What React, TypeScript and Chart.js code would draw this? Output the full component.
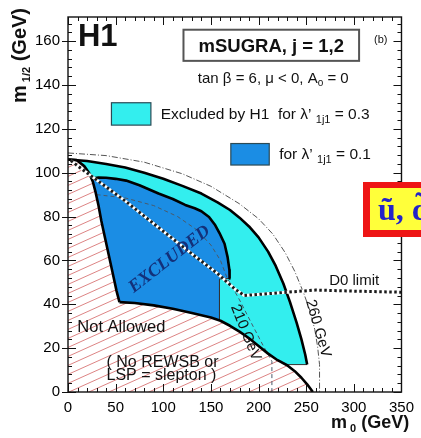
import React, { useEffect, useRef } from 'react';
import { Chart, registerables } from 'chart.js';

Chart.register(...registerables);

// Axis ticks (GeV)
const xTicks = [0, 50, 100, 150, 200, 250, 300, 350];
const yTicks = [0, 20, 40, 60, 80, 100, 120, 140, 160];
const xRange = [0, 350];
const yRange = [0, 171];

// Theoretically forbidden region: slepton-LSP edge (top-left) and no-REWSB edge (bottom)
const lspEdge = [[0, 106], [9, 105.8], [17, 103], [22, 100], [26, 96], [29, 91], [32, 85], [35, 78], [39, 70], [43, 62], [47, 54], [51, 46], [54, 41]];
const rewsbEdge = [[54, 41], [70, 40.6], [90, 39.5], [110, 38], [130, 36], [150, 34], [160, 32.5], [170, 30.2], [180, 27.5], [190, 24.5], [200, 21], [210, 17.5], [220, 14.5], [230, 12.2], [238, 9.5], [245, 6.5], [251, 3.5], [257, 0]];

// H1 exclusion contour, lambda'_1j1 = 0.3
const h1Limit03 = [[0, 106], [20, 105.3], [40, 104], [60, 102.4], [80, 100], [100, 97.2], [120, 94], [140, 90.5], [157, 86.5], [170, 83], [180, 79.5], [190, 75.5], [200, 70.5], [210, 64], [218, 57.5], [226, 49.5], [233, 41], [240, 31.5], [245, 24], [249, 17], [251, 12.5]];
const h1Limit03Floor = [[251, 12.5], [228.5, 12.5]];

// H1 exclusion contour, lambda'_1j1 = 0.1
const h1Limit01 = [[25, 97.3], [32, 97.8], [40, 97.7], [50, 97.2], [61, 96.4], [75, 94.3], [95, 90.5], [110, 88], [123, 85.3], [133, 83.8], [140, 82.4], [148, 79.8], [154, 76.4], [159, 72.5], [164.3, 67.6], [167.5, 61.5], [169.4, 55.7], [169.6, 51.8]];
const h1Limit01Step = [[169.6, 51.8], [159, 51.5], [159, 32.7]];

// D0 limit
const d0Limit = [[3, 105.5], [12, 102.5], [31, 96.4], [61, 86.8], [95, 75], [130, 63], [157, 54], [175, 47], [185, 44], [230, 45.5], [260, 46.5], [300, 46], [350, 45.5]];

// Squark mass contours (210 GeV and 260 GeV)
const squark210 = [[30, 90], [60, 88.5], [90, 85], [115, 80], [135, 74], [150, 67], [160, 60], [167, 52], [180, 42], [193, 31], [205, 21], [214, 14], [214, 0]];
const squark260 = [[0, 109], [40, 107.8], [80, 104.8], [120, 99.5], [150, 93.8], [180, 85.8], [200, 79], [215, 72], [228, 63.5], [238, 55], [247, 45.5], [254, 37], [259, 28.5], [262, 20.5], [264, 12.5], [264, 0]];

const SANS = '"Liberation Sans", Arial, Helvetica, sans-serif';
const SERIF = '"Liberation Serif", "Times New Roman", serif';
const CYAN = '#33eeee';
const BLUE = '#1b8de4';

type XY = { x: number; y: number };
const toXY = (a: number[][]): XY[] => a.map(([x, y]) => ({ x, y }));

function hatchPattern(): CanvasPattern | string {
  const c = document.createElement('canvas');
  const w = 20;
  const h = 9;
  c.width = w;
  c.height = h;
  const g = c.getContext('2d');
  if (!g) return '#f6dede';
  g.fillStyle = '#ffffff';
  g.fillRect(0, 0, w, h);
  g.strokeStyle = '#dd8484';
  g.lineWidth = 1;
  for (const k of [0, 1, 2]) {
    g.beginPath();
    g.moveTo(-w, k * h + h);
    g.lineTo(2 * w, k * h - 2 * h);
    g.stroke();
  }
  return g.createPattern(c, 'repeat') ?? '#f6dede';
}

type Run = { t: string; size: number; bold?: boolean; italic?: boolean; dy?: number; family?: string };
const fontOf = (r: Run) => `${r.italic ? 'italic ' : ''}${r.bold ? 'bold ' : ''}${r.size}px ${r.family ?? SANS}`;

function drawRuns(ctx: CanvasRenderingContext2D, x: number, y: number, list: Run[], align: 'left' | 'center' = 'left') {
  let total = 0;
  for (const r of list) {
    ctx.font = fontOf(r);
    total += ctx.measureText(r.t).width;
  }
  let cx = align === 'center' ? x - total / 2 : x;
  ctx.textAlign = 'left';
  for (const r of list) {
    ctx.font = fontOf(r);
    ctx.fillText(r.t, cx, y + (r.dy ?? 0));
    cx += ctx.measureText(r.t).width;
  }
}

const decorPlugin = {
  id: 'decor',
  afterDraw(chart: any) {
    const ctx: CanvasRenderingContext2D = chart.ctx;
    const xs = chart.scales.x;
    const ys = chart.scales.y;
    const X = (v: number) => xs.getPixelForValue(v);
    const Y = (v: number) => ys.getPixelForValue(v);
    const { left, right, top, bottom } = chart.chartArea;

    ctx.save();
    // frame and ticks
    ctx.strokeStyle = '#111';
    ctx.lineWidth = 1.4;
    ctx.strokeRect(left, top, right - left, bottom - top);
    ctx.lineWidth = 1;
    ctx.beginPath();
    for (let v = 0; v <= yRange[1]; v += 4) {
      const major = v % 20 === 0;
      const len = major ? 8 : 4;
      const p = Math.round(Y(v)) + 0.5;
      ctx.moveTo(left, p);
      ctx.lineTo(left + len, p);
      ctx.moveTo(right, p);
      ctx.lineTo(right - len, p);
      if (major) {
        ctx.moveTo(left, p);
        ctx.lineTo(left - 6, p);
      }
    }
    for (let v = 0; v <= xRange[1]; v += 10) {
      const major = v % 50 === 0;
      const len = major ? 8 : 4;
      const p = Math.round(X(v)) + 0.5;
      ctx.moveTo(p, bottom);
      ctx.lineTo(p, bottom - len);
      ctx.moveTo(p, top);
      ctx.lineTo(p, top + len);
    }
    ctx.stroke();

    ctx.fillStyle = '#111';
    ctx.textBaseline = 'alphabetic';

    // axis titles
    drawRuns(ctx, 331, 428, [
      { t: 'm', size: 18, bold: true },
      { t: ' 0', size: 11, bold: true, dy: 4 },
      { t: ' (GeV)', size: 18, bold: true },
    ]);
    ctx.save();
    ctx.translate(26, 103);
    ctx.rotate(-Math.PI / 2);
    drawRuns(ctx, 0, 0, [
      { t: 'm', size: 20, bold: true },
      { t: ' 1/2', size: 11, bold: true, dy: 4 },
      { t: ' (GeV)', size: 20, bold: true },
    ]);
    ctx.restore();

    // experiment tag
    drawRuns(ctx, X(10.4), Y(157.7), [{ t: 'H1', size: 31, bold: true }]);

    // model box
    const bx0 = X(121.2), bx1 = X(305.5), by0 = Y(165.2), by1 = Y(151);
    ctx.fillStyle = '#fff';
    ctx.fillRect(bx0, by0, bx1 - bx0, by1 - by0);
    ctx.strokeStyle = '#555';
    ctx.lineWidth = 2;
    ctx.strokeRect(bx0, by0, bx1 - bx0, by1 - by0);
    ctx.fillStyle = '#111';
    drawRuns(ctx, X(213.3), Y(155.1), [{ t: 'mSUGRA, j = 1,2', size: 18.5, bold: true }], 'center');
    drawRuns(ctx, X(328.3), Y(159.2), [{ t: '(b)', size: 11 }], 'center');
    drawRuns(ctx, X(215.4), Y(141), [
      { t: 'tan \u03b2 = 6, \u03bc < 0, A', size: 15 },
      { t: 'o', size: 10, dy: 3 },
      { t: ' = 0', size: 15 },
    ], 'center');

    // legend swatches
    const sw = (x0: number, y0: number, x1: number, y1: number, color: string) => {
      ctx.fillStyle = color;
      ctx.fillRect(X(x0), Y(y0), X(x1) - X(x0), Y(y1) - Y(y0));
      ctx.strokeStyle = '#2b4a55';
      ctx.lineWidth = 1.2;
      ctx.strokeRect(X(x0), Y(y0), X(x1) - X(x0), Y(y1) - Y(y0));
    };
    sw(45.6, 131.9, 87, 121.7, CYAN);
    sw(170.9, 113.3, 211.2, 103.5, BLUE);
    ctx.fillStyle = '#111';
    drawRuns(ctx, X(97.3), Y(124.4), [
      { t: 'Excluded by H1  for \u03bb\u2019 ', size: 15.5 },
      { t: '1j1', size: 11, dy: 4 },
      { t: ' = 0.3', size: 15.5 },
    ]);
    drawRuns(ctx, X(221.6), Y(106.4), [
      { t: 'for \u03bb\u2019 ', size: 15.5 },
      { t: '1j1', size: 11, dy: 4 },
      { t: ' = 0.1', size: 15.5 },
    ]);

    // region labels
    drawRuns(ctx, X(56), Y(27.3), [{ t: 'Not Allowed', size: 16.5 }], 'center');
    drawRuns(ctx, X(40.4), Y(11.3), [{ t: '( No REWSB or', size: 16 }]);
    drawRuns(ctx, X(40.4), Y(5.4), [{ t: 'LSP = slepton )', size: 16 }]);
    drawRuns(ctx, X(300.3), Y(48.6), [{ t: 'D0 limit', size: 15 }], 'center');

    const rotated = (text: string, x: number, y: number, deg: number, font: string, color: string) => {
      ctx.save();
      ctx.translate(x, y);
      ctx.rotate((deg * Math.PI) / 180);
      ctx.font = font;
      ctx.fillStyle = color;
      ctx.textAlign = 'center';
      ctx.textBaseline = 'middle';
      ctx.fillText(text, 0, 0);
      ctx.restore();
    };
    rotated('210 GeV', X(186.4), Y(27.1), 68, `15px ${SANS}`, '#111');
    rotated('260 GeV', X(262.5), Y(28.9), 74, `15px ${SANS}`, '#111');
    rotated('EXCLUDED', X(106.5), Y(60.5), -38, `italic bold 18px ${SERIF}`, '#13307a');

    // squark tag (overlay box at the right edge)
    ctx.fillStyle = '#ee1515';
    ctx.fillRect(363, 182, 70, 55);
    ctx.fillStyle = '#ffff3a';
    ctx.fillRect(370, 188, 70, 42);
    ctx.fillStyle = '#2323c8';
    ctx.textAlign = 'left';
    ctx.textBaseline = 'alphabetic';
    ctx.font = `bold 32px ${SERIF}`;
    ctx.fillText('\u0169, d\u0303', 378, 220);
    ctx.restore();
  },
};

export default function App() {
  const ref = useRef<HTMLCanvasElement | null>(null);

  useEffect(() => {
    const canvas = ref.current;
    if (!canvas) return;
    const hatch = hatchPattern();

    const notAllowed = toXY([...lspEdge, ...rewsbEdge.slice(1), [0, 0]]);
    const cyanArea = toXY([
      ...h1Limit03,
      ...h1Limit03Floor.slice(1),
      ...rewsbEdge.filter(([x]) => x < h1Limit03Floor[1][0]).reverse(),
      ...lspEdge.slice(0, -1).reverse(),
    ]);
    const blueArea = toXY([
      ...h1Limit01,
      ...h1Limit01Step.slice(1),
      ...rewsbEdge.filter(([x]) => x < h1Limit01Step[2][0]).reverse(),
      ...lspEdge.filter(([, y]) => y < h1Limit01[0][1]).reverse().slice(1),
    ]);

    const area = (data: XY[], color: any, order: number) => ({
      data, showLine: true, fill: 'shape', backgroundColor: color, borderWidth: 0,
      borderColor: 'rgba(0,0,0,0)', pointRadius: 0, tension: 0, order,
    });
    const line = (data: XY[], color: string, width: number, order: number, dash: number[] = []) => ({
      data, showLine: true, fill: false, borderColor: color, borderWidth: width, borderDash: dash,
      pointRadius: 0, tension: 0, order, borderCapStyle: 'butt', borderJoinStyle: 'round',
    });

    const chart = new Chart(canvas, {
      type: 'scatter',
      data: {
        datasets: [
          area(notAllowed, hatch, 20),
          area(cyanArea, CYAN, 19),
          area(blueArea, BLUE, 18),
          line(toXY(squark210), '#4a5a6a', 1, 12, [4, 3]),
          line(toXY(squark260), '#555', 1, 12, [6, 2, 1, 2]),
          line(toXY(h1Limit03Floor), '#333', 1, 11),
          line(toXY(h1Limit01Step), '#333', 1, 11),
          line(toXY(lspEdge), '#000', 2.6, 10),
          line(toXY(rewsbEdge), '#000', 2.6, 10),
          line(toXY(h1Limit03), '#000', 2.6, 10),
          line(toXY(h1Limit01), '#000', 2.6, 10),
          line(toXY(d0Limit), '#ffffff', 3, 9),
          line(toXY(d0Limit), '#1a1a1a', 3, 8, [2.5, 2.5]),
        ] as any,
      },
      options: {
        animation: false,
        responsive: false,
        maintainAspectRatio: false,
        events: [],
        layout: { padding: { top: 7, right: 15, left: 0, bottom: 0 } },
        plugins: { legend: { display: false }, tooltip: { enabled: false } },
        scales: {
          x: {
            type: 'linear',
            min: xRange[0],
            max: xRange[1],
            afterBuildTicks: (s: any) => { s.ticks = xTicks.map((v) => ({ value: v })); },
            afterFit: (s: any) => { s.height = 46; },
            grid: { display: false, drawTicks: false },
            border: { display: false },
            ticks: { padding: 7, color: '#000', font: { family: SANS, size: 15 } },
          },
          y: {
            type: 'linear',
            min: yRange[0],
            max: yRange[1],
            afterBuildTicks: (s: any) => { s.ticks = yTicks.map((v) => ({ value: v })); },
            afterFit: (s: any) => { s.width = 68; },
            grid: { display: false, drawTicks: false },
            border: { display: false },
            ticks: { padding: 8, color: '#000', font: { family: SANS, size: 15 } },
          },
        },
      } as any,
      plugins: [decorPlugin],
    });
    return () => chart.destroy();
  }, []);

  return (
    <div style={{ position: 'absolute', left: 0, top: 0, width: 421, height: 438, background: '#fff', overflow: 'hidden' }}>
      <canvas ref={ref} width={421} height={438} style={{ display: 'block' }} />
    </div>
  );
}
